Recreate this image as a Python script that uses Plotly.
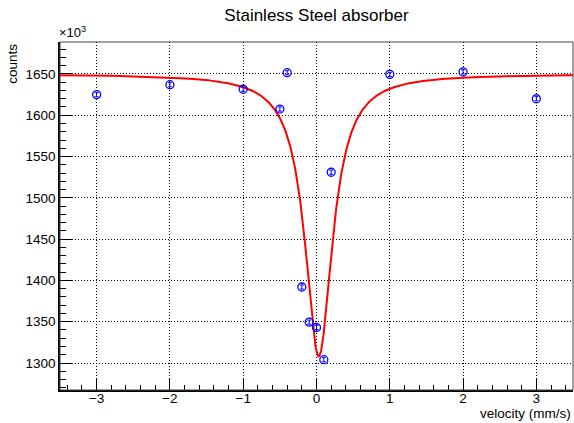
import numpy as np
import plotly.graph_objects as go

# Measured counts (in units of 10^3) versus source velocity
velocity = [-3.0, -2.0, -1.0, -0.5, -0.4, -0.2, -0.1, 0.0, 0.1, 0.2, 1.0, 2.0, 3.0]
counts_k = [1625.0, 1637.0, 1631.5, 1607.5, 1651.5, 1392.0, 1349.5, 1343.0, 1304.0, 1531.0, 1649.5, 1652.5, 1620.0]
counts_err = [2.5] * len(velocity)

# Lorentzian fit parameters: baseline, depth, centre, half width
fit_base = 1650.0
fit_depth = 342.0
fit_centre = 0.03
fit_gamma = 0.228

x_fit = np.linspace(-3.5, 3.5, 1401)
y_fit = fit_base - fit_depth / (1.0 + ((x_fit - fit_centre) / fit_gamma) ** 2)

x_ticks = [-3, -2, -1, 0, 1, 2, 3]
y_ticks = [1300, 1350, 1400, 1450, 1500, 1550, 1600, 1650]

FONT = "Liberation Sans, Arial, sans-serif"

fig = go.Figure()
fig.add_trace(go.Scatter(
    x=x_fit, y=y_fit, mode="lines",
    line=dict(color="#ff0000", width=2), hoverinfo="skip", showlegend=False,
))
fig.add_trace(go.Scatter(
    x=velocity, y=counts_k, mode="markers",
    marker=dict(symbol="circle-open", size=8, color="#0000ff", line=dict(width=1.3, color="#0000ff")),
    error_y=dict(type="data", array=counts_err, color="#0000ff", thickness=1, width=2),
    showlegend=False,
))

axis_common = dict(
    showline=True, linecolor="black", linewidth=1.5, mirror=False,
    ticks="inside", tickcolor="black", tickwidth=1,
    showgrid=True, gridcolor="black", gridwidth=1, griddash="1px,2px",
    zeroline=False,
    tickfont=dict(family=FONT, size=13.5, color="black"),
)

fig.update_xaxes(
    range=[-3.5, 3.5], tickvals=x_ticks, ticklen=11, ticklabelstandoff=-5,
    minor=dict(dtick=0.2, ticks="inside", ticklen=5, tickcolor="black", showgrid=False),
    **axis_common,
)
fig.update_yaxes(
    range=[1267.3, 1688.7], tickvals=y_ticks, ticklen=12,
    minor=dict(dtick=10, ticks="inside", ticklen=6, tickcolor="black", showgrid=False),
    **axis_common,
)

fig.add_shape(type="rect", xref="paper", yref="paper", x0=0, y0=0, x1=1, y1=1,
              line=dict(color="#444444", width=1), layer="above")

fig.update_layout(
    width=574, height=423,
    margin=dict(l=60, r=1, t=42, b=33),
    paper_bgcolor="white", plot_bgcolor="white",
    font=dict(family=FONT, color="black"),
    title=dict(text="Stainless Steel absorber", x=0.5, xref="paper", y=0.965, yref="container",
               xanchor="center", yanchor="middle", font=dict(family=FONT, size=17, color="black")),
    annotations=[
        dict(text="×10<sup>3</sup>", xref="paper", yref="paper", x=-0.005, y=1.0,
             xanchor="left", yanchor="bottom", showarrow=False,
             font=dict(family=FONT, size=13, color="black")),
        dict(text="counts", xref="paper", yref="paper", x=-0.094, y=1.0,
             xanchor="center", yanchor="top", textangle=-90, showarrow=False,
             font=dict(family=FONT, size=13.5, color="black")),
        dict(text="velocity (mm/s)", xref="paper", yref="paper", x=1.0, y=-0.068,
             xanchor="right", yanchor="middle", showarrow=False,
             font=dict(family=FONT, size=13.5, color="black")),
    ],
)

fig.write_html("out.html")
